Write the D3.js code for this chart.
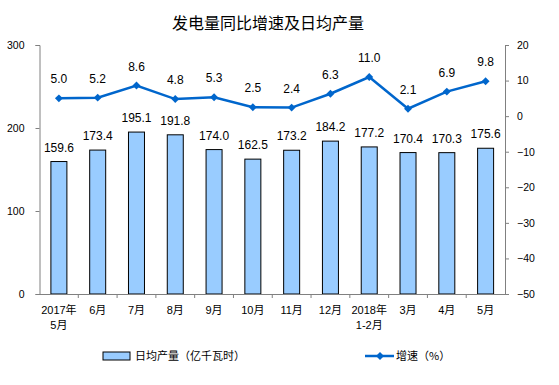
<!DOCTYPE html>
<html>
<head>
<meta charset="utf-8">
<script src="https://cdn.jsdelivr.net/npm/d3@7"></script>
<style>
  body { margin: 0; background: #fff; }
  text { font-family: "Liberation Sans", Arial, "Noto Sans CJK SC", sans-serif; }
</style>
</head>
<body>
<div id="chart"></div>
<script>
const months = ["2017年\n5月", "6月", "7月", "8月", "9月", "10月", "11月", "12月", "2018年\n1-2月", "3月", "4月", "5月"];
const output = [159.6, 173.4, 195.1, 191.8, 174.0, 162.5, 173.2, 184.2, 177.2, 170.4, 170.3, 175.6];
const growth = [5.0, 5.2, 8.6, 4.8, 5.3, 2.5, 2.4, 6.3, 11.0, 2.1, 6.9, 9.8];
const leftTicks = [0, 100, 200, 300];
const rightTicks = [-50, -40, -30, -20, -10, 0, 10, 20];

const W = 559, H = 385;
const margin = { top: 45, right: 54, bottom: 91, left: 39.5 };
const width = W - margin.left - margin.right;
const height = H - margin.top - margin.bottom;

const svg = d3.select("#chart").append("svg")
  .attr("width", W)
  .attr("height", H);

const g = svg.append("g")
  .attr("transform", `translate(${margin.left},${margin.top})`);

const x = d3.scaleBand().domain(months).range([0, width]);
const yL = d3.scaleLinear().domain([0, 300]).range([height, 0]);
const yR = d3.scaleLinear().domain([-50, 20]).range([height, 0]);

const axisColor = "#808080";
const mixed = '"Liberation Sans", Arial, "Noto Sans CJK SC", sans-serif';
const cjk = '"Noto Sans CJK SC", sans-serif';

svg.append("text")
  .attr("x", 268)
  .attr("y", 29)
  .attr("text-anchor", "middle")
  .style("font-family", cjk)
  .style("font-size", "16px")
  .text("发电量同比增速及日均产量");

// bars
const barW = 16;
g.selectAll("rect.bar")
  .data(output)
  .enter()
  .append("rect")
  .attr("class", "bar")
  .attr("x", (d, i) => x(months[i]) + x.bandwidth() / 2 - barW / 2)
  .attr("y", d => yL(d))
  .attr("width", barW)
  .attr("height", d => height - yL(d))
  .attr("fill", "#99CCFF")
  .attr("stroke", "#000")
  .attr("stroke-width", 1);

g.selectAll("text.barlab")
  .data(output)
  .enter()
  .append("text")
  .attr("class", "barlab")
  .attr("x", (d, i) => x(months[i]) + x.bandwidth() / 2)
  .attr("y", d => yL(d) - 10)
  .attr("text-anchor", "middle")
  .style("font-size", "12px")
  .text(d => d.toFixed(1));

// axes
const left = g.append("g")
  .call(d3.axisLeft(yL).tickValues(leftTicks).tickSize(4).tickPadding(11));
const right = g.append("g")
  .attr("transform", `translate(${width},0)`)
  .call(d3.axisRight(yR).tickValues(rightTicks).tickSize(4).tickPadding(8));
const bottom = g.append("g")
  .attr("transform", `translate(0,${height})`)
  .call(d3.axisBottom(x).tickSize(0).tickFormat(""));

[left, right, bottom].forEach(a => {
  a.select(".domain").attr("stroke", axisColor);
  a.selectAll(".tick line").attr("stroke", axisColor);
  a.selectAll(".tick text").style("font-size", "10.5px").attr("fill", "#000");
});

// category boundary ticks
g.append("g").selectAll("line")
  .data(months.slice(1))
  .enter()
  .append("line")
  .attr("x1", d => x(d))
  .attr("x2", d => x(d))
  .attr("y1", height)
  .attr("y2", height + 4)
  .attr("stroke", axisColor);

// x labels
const xl = g.append("g").selectAll("text")
  .data(months)
  .enter()
  .append("text")
  .attr("x", d => x(d) + x.bandwidth() / 2)
  .attr("y", height + 20)
  .attr("text-anchor", "middle")
  .style("font-family", mixed)
  .style("font-size", "11px");
xl.each(function(d) {
  d.split("\n").forEach((p, k) => {
    d3.select(this).append("tspan")
      .attr("x", x(d) + x.bandwidth() / 2)
      .attr("dy", k === 0 ? 0 : 15)
      .text(p);
  });
});

// line
const lineColor = "#0066CC";
const line = d3.line()
  .x((d, i) => x(months[i]) + x.bandwidth() / 2)
  .y(d => yR(d));

g.append("path")
  .datum(growth)
  .attr("d", line)
  .attr("fill", "none")
  .attr("stroke", lineColor)
  .attr("stroke-width", 2.5);

const diamond = d3.symbol().type(d3.symbolDiamond2 || d3.symbolDiamond).size(40);
g.selectAll("path.pt")
  .data(growth)
  .enter()
  .append("path")
  .attr("class", "pt")
  .attr("d", diamond)
  .attr("transform", (d, i) => `translate(${x(months[i]) + x.bandwidth() / 2},${yR(d)})`)
  .attr("fill", lineColor);

g.selectAll("text.ptlab")
  .data(growth)
  .enter()
  .append("text")
  .attr("class", "ptlab")
  .attr("x", (d, i) => x(months[i]) + x.bandwidth() / 2)
  .attr("y", d => yR(d) - 15)
  .attr("text-anchor", "middle")
  .style("font-size", "12px")
  .text(d => d.toFixed(1));

// legend
const leg = svg.append("g");
leg.append("rect")
  .attr("x", 103).attr("y", 352)
  .attr("width", 27).attr("height", 8)
  .attr("fill", "#99CCFF")
  .attr("stroke", "#000");
leg.append("text")
  .attr("x", 135).attr("y", 360)
  .style("font-family", cjk)
  .style("font-size", "11px")
  .text("日均产量（亿千瓦时）");
leg.append("line")
  .attr("x1", 365).attr("x2", 394)
  .attr("y1", 356).attr("y2", 356)
  .attr("stroke", lineColor)
  .attr("stroke-width", 2.5);
leg.append("path")
  .attr("d", diamond)
  .attr("transform", "translate(380,356)")
  .attr("fill", lineColor);
leg.append("text")
  .attr("x", 396).attr("y", 360)
  .style("font-family", cjk)
  .style("font-size", "11px")
  .text("增速（%）");
</script>
</body>
</html>
